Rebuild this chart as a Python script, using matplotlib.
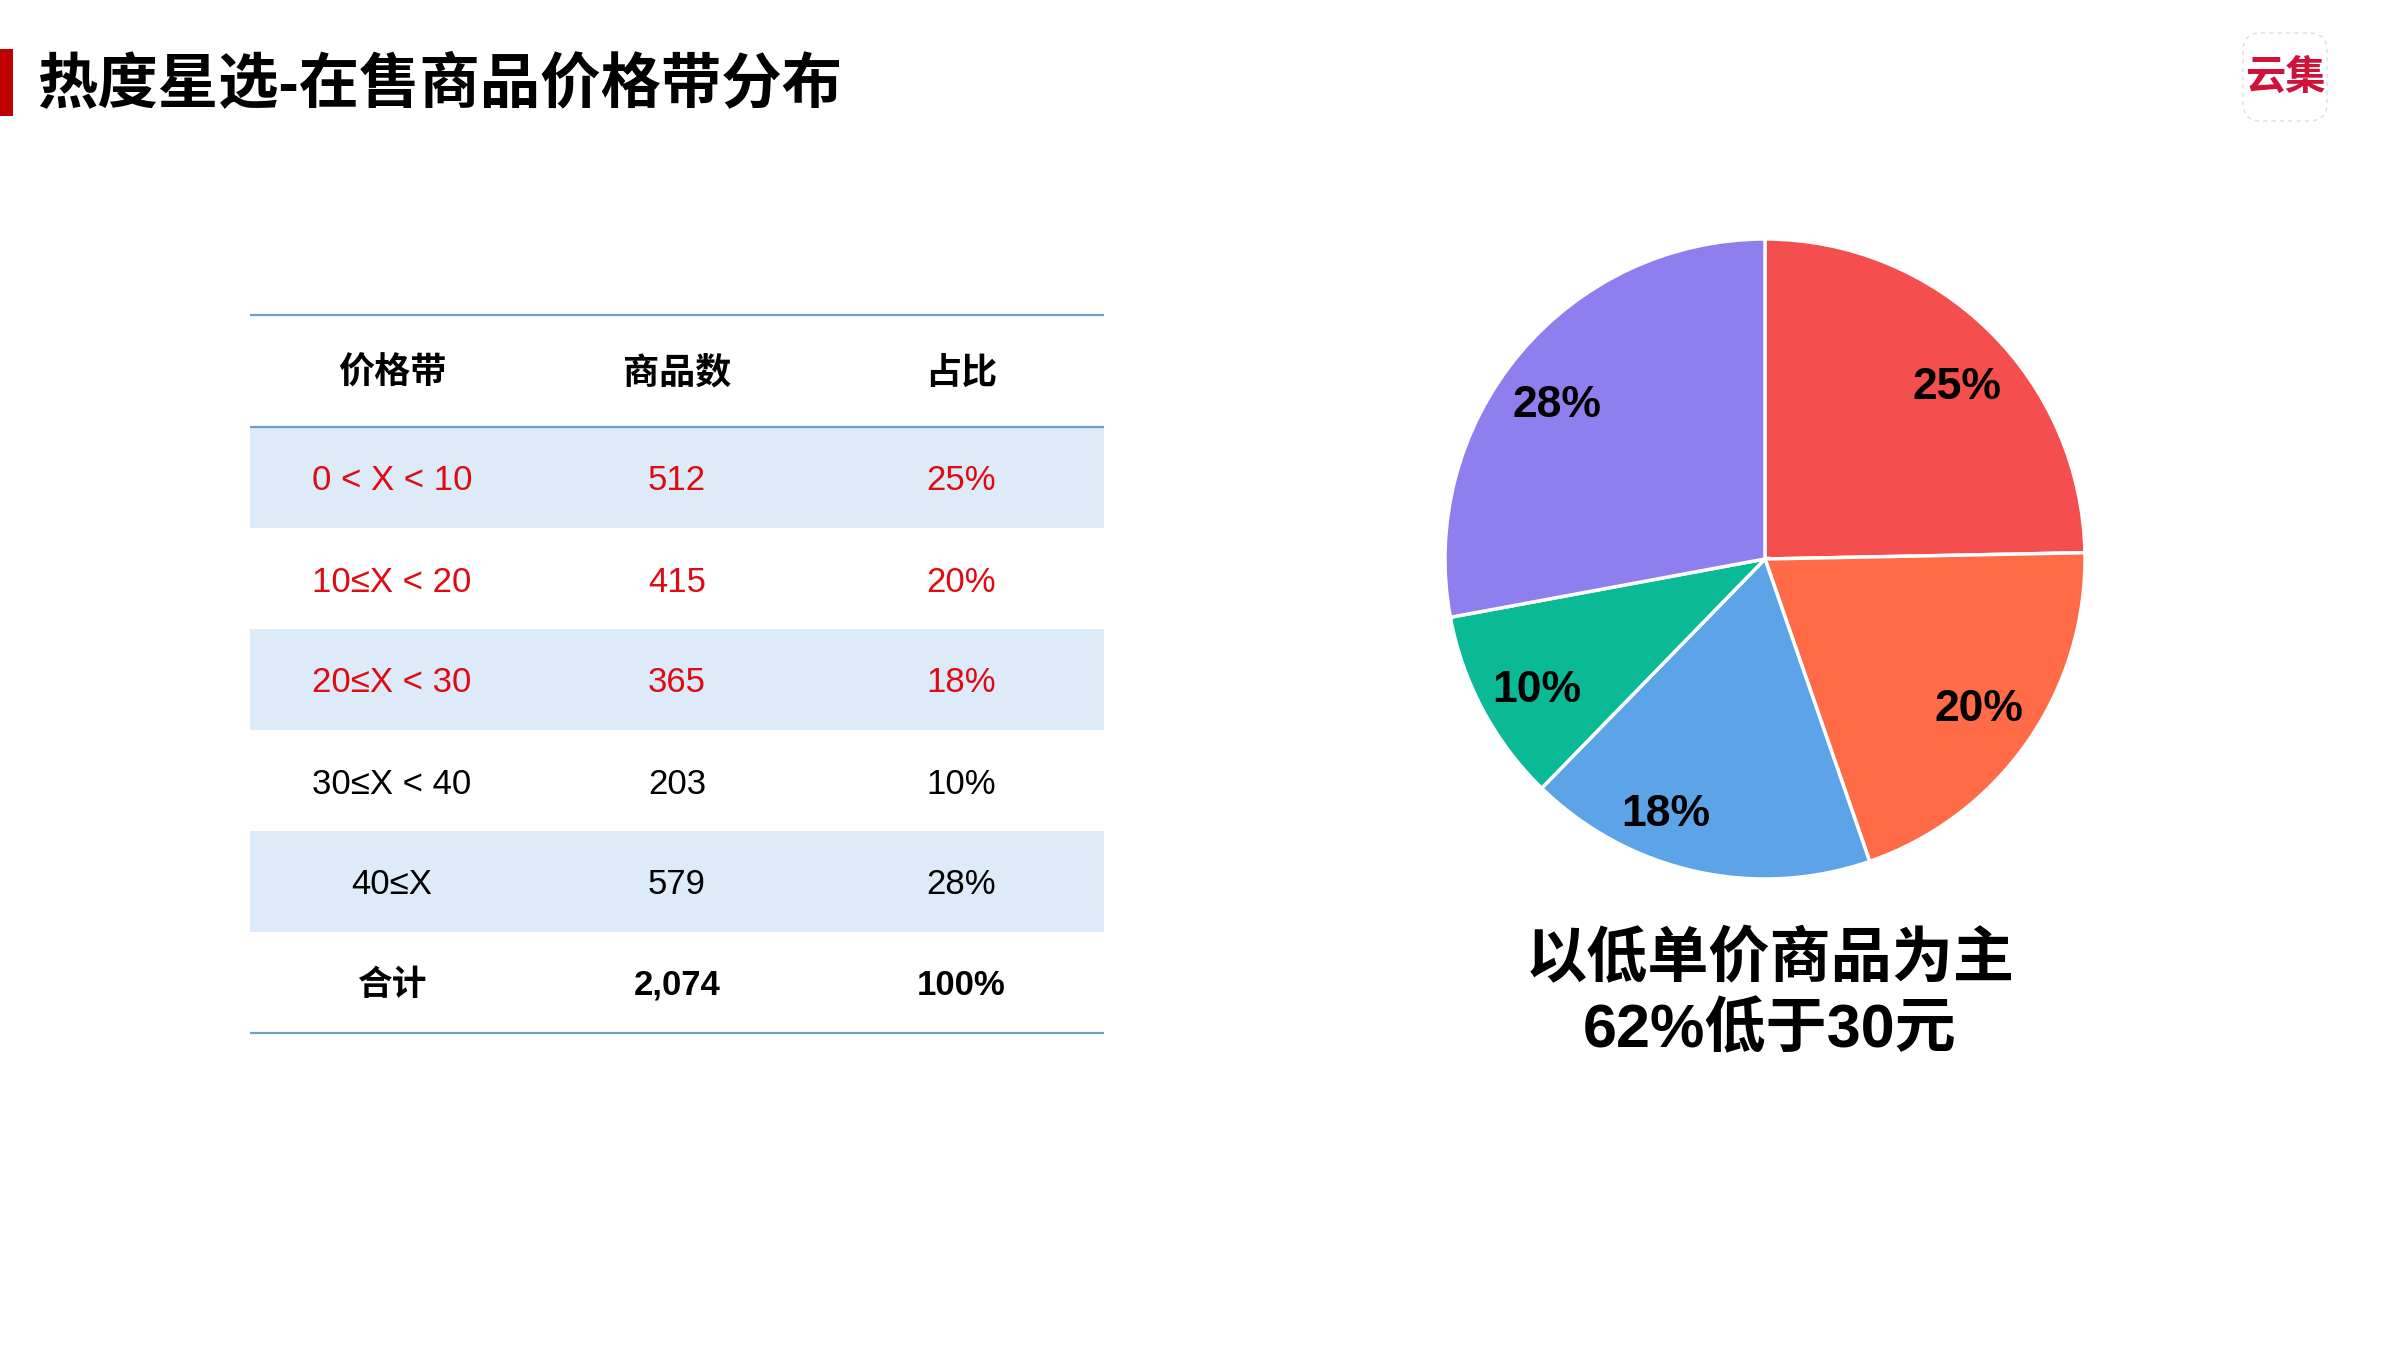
import matplotlib
matplotlib.use("Agg")
import matplotlib.pyplot as plt
from matplotlib.patches import Rectangle, FancyBboxPatch
import numpy as np

plt.rcParams["font.family"] = ["Liberation Sans", "Noto Sans CJK SC", "DejaVu Sans"]

# data
title = "热度星选-在售商品价格带分布"
headers = ["价格带", "商品数", "占比"]
price_bands = ["0 < X < 10", "10≤X < 20", "20≤X < 30", "30≤X < 40", "40≤X"]
counts = [512, 415, 365, 203, 579]
shares = ["25%", "20%", "18%", "10%", "28%"]
total_row = ["合计", "2,074", "100%"]
highlight_rows = [0, 1, 2]
summary_lines = ["以低单价商品为主", "62%低于30元"]
logo_text = "云集"

pie_colors = ["#F54E4E", "#FF6B47", "#5CA3E8", "#0ABA97", "#8F7FEE"]
red = "#E00A12"
line_col = "#6D9ECF"
shade = "#DDEBF8"

W, H = 2400, 1350
fig = plt.figure(figsize=(24, 13.5), dpi=100)
ax = fig.add_axes([0, 0, 1, 1])
ax.set_xlim(0, W)
ax.set_ylim(H, 0)
ax.axis("off")

# title bar
ax.add_patch(Rectangle((0, 49), 13, 67, color="#C00000", lw=0))
ax.text(37, 86, title, fontsize=43.5, fontweight="bold", va="center", ha="left")

# logo
ax.add_patch(FancyBboxPatch((2243, 33), 84, 88, boxstyle="round,pad=0,rounding_size=18",
                            fc="white", ec="#DDDDDD", lw=1, ls=(0, (3, 3))))
ax.text(2285, 78, logo_text, fontsize=29, fontweight="bold", color="#D0123A",
        ha="center", va="center")

# table
x0, x1 = 250, 1104
col_x = [392, 677, 961]
top, head_bot, row_h = 315, 427, 101
n_rows = len(price_bands) + 1

for i in range(len(price_bands)):
    if i % 2 == 0:
        ax.add_patch(Rectangle((x0, head_bot + i * row_h), x1 - x0, row_h,
                               color=shade, lw=0))

ax.hlines([top, head_bot, head_bot + n_rows * row_h], x0, x1, colors=line_col, lw=1.6)

for cx, h in zip(col_x, headers):
    ax.text(cx, (top + head_bot) / 2 + 3, h, fontsize=26, fontweight="bold",
            ha="center", va="center")

for i, (band, c, s) in enumerate(zip(price_bands, counts, shares)):
    y = head_bot + (i + 0.5) * row_h
    col = red if i in highlight_rows else "black"
    for cx, t in zip(col_x, [band, str(c), s]):
        ax.text(cx, y, t, fontsize=25, color=col, ha="center", va="center_baseline")

y_tot = head_bot + (n_rows - 0.5) * row_h
for cx, t in zip(col_x, total_row):
    ax.text(cx, y_tot + 3, t, fontsize=25, fontweight="bold", ha="center", va="center")

# pie
cx_p, cy_p, r_p = 1765, 559, 320
span = 1.05
size = 2 * r_p * span
pax = fig.add_axes([(cx_p - size / 2) / W, 1 - (cy_p + size / 2) / H, size / W, size / H])
wedges, _ = pax.pie(counts, colors=pie_colors, startangle=90, counterclock=False,
                    wedgeprops=dict(edgecolor="white", linewidth=2.5))
pax.set_xlim(-span, span)
pax.set_ylim(-span, span)
pax.set_aspect("equal")
pax.axis("off")

# small hand nudges so labels sit where the original has them
label_shift = [-3, 0.5, -9, 1, 2.5]
label_r = [0.815, 0.81, 0.845, 0.815, 0.815]
for w, s, d, r in zip(wedges, shares, label_shift, label_r):
    ang = np.deg2rad((w.theta1 + w.theta2) / 2 + d)
    pax.text(r * np.cos(ang), r * np.sin(ang), s, fontsize=32,
             fontweight="bold", ha="center", va="center_baseline")

# summary
for k, line in enumerate(summary_lines):
    ax.text(1770, 961 + k * 70, line, fontsize=44, fontweight="bold",
            ha="center", va="center")

fig.savefig("out.png", dpi=100)
